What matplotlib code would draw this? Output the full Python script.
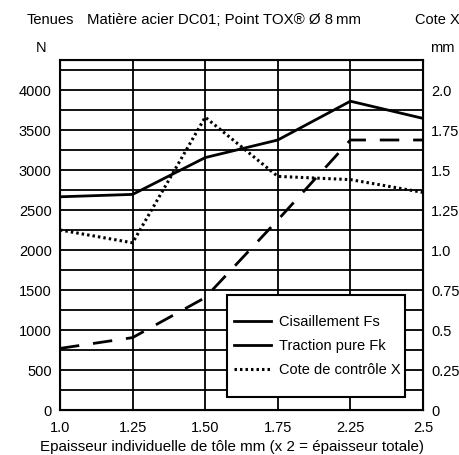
import matplotlib
matplotlib.use("Agg")
import matplotlib.pyplot as plt
from matplotlib.lines import Line2D
from matplotlib.patches import Rectangle
import numpy as np

plt.rcParams['font.family'] = ['Liberation Sans', 'DejaVu Sans']
plt.rcParams['font.size'] = 10.5

# thickness categories (2.0 is not on the chart)
thickness = ['1.0', '1.25', '1.50', '1.75', '2.25', '2.5']
shear_fs = [2665, 2695, 3155, 3375, 3860, 3645]       # N
tensile_fk = [770, 905, 1405, 2375, 3375, 3375]       # N
cote_x = [1.125, 1.045, 1.83, 1.46, 1.44, 1.36]       # mm

left_ticks = np.arange(0, 4001, 500)
right_ticks = [0, 0.25, 0.5, 0.75, 1.0, 1.25, 1.5, 1.75, 2.0]
right_labels = ['0', '0.25', '0.5', '0.75', '1.0', '1.25', '1.5', '1.75', '2.0']

fig = plt.figure(figsize=(4.6, 4.55), dpi=100)
ax = fig.add_axes([60/460, 45/455, 363/460, 350/455])
x = np.arange(len(thickness))

ymax = 4375
ax.set_xlim(0, len(thickness) - 1)
ax.set_ylim(0, ymax)
ax.set_yticks(left_ticks)
ax.set_yticks(np.arange(250, 4300, 500), minor=True)
ax.set_xticks(x)
ax.set_xticklabels(thickness)
ax.grid(True, which='both', color='black', linewidth=1.3)
ax.tick_params(which='both', length=0)
ax.tick_params(axis='x', pad=8)
ax.tick_params(axis='y', pad=6)
for s in ax.spines.values():
    s.set_linewidth(1.5)

ax.plot(x, shear_fs, color='black', linewidth=2.0, zorder=3)
ax.plot(x, tensile_fk, color='black', linewidth=2.0, dashes=(7, 5), zorder=3)

# cote X on the right axis (1 mm = 2000 N)
ax2 = ax.twinx()
ax2.set_ylim(0, ymax / 2000)
ax2.set_yticks(right_ticks)
ax2.set_yticklabels(right_labels)
ax2.tick_params(length=0, pad=6)
ax2.plot(x, cote_x, color='black', linewidth=2.2, dashes=(0.8, 1.0), zorder=3)

# legend box
ax2.add_patch(Rectangle((167/363, 13/350), 178/363, 102/350, transform=ax2.transAxes,
                        facecolor='white', edgecolor='black', linewidth=1.5, zorder=4))
handles = [
    Line2D([], [], color='black', linewidth=2.0),
    Line2D([], [], color='black', linewidth=2.0),
    Line2D([], [], color='black', linewidth=2.2, dashes=(0.8, 1.0)),
]
leg = ax2.legend(handles, ['Cisaillement Fs', 'Traction pure Fk', 'Cote de contrôle X'],
                 loc='center left', bbox_to_anchor=(170/363, 64/350), frameon=False,
                 handlelength=2.5, handletextpad=0.55, borderpad=0.3, borderaxespad=0,
                 labelspacing=0.68)
leg.set_zorder(5)

fig.text(27/460, 1 - 20/455, 'Tenues', ha='left', va='center')
fig.text(87/460, 1 - 20/455, 'Matière acier DC01; Point TOX® Ø 8\u2009mm', ha='left', va='center',
         fontsize=10.8)
fig.text(1.0, 1 - 20/455, 'Cote X', ha='right', va='center')
fig.text(41/460, 1 - 48/455, 'N', ha='center', va='center')
fig.text(430/460, 1 - 48/455, 'mm', ha='left', va='center')
fig.text(232/460, 1 - 447/455, 'Epaisseur individuelle de tôle mm (x 2 = épaisseur totale)',
         ha='center', va='center', fontsize=10.9)

fig.savefig('out.png', dpi=100)
